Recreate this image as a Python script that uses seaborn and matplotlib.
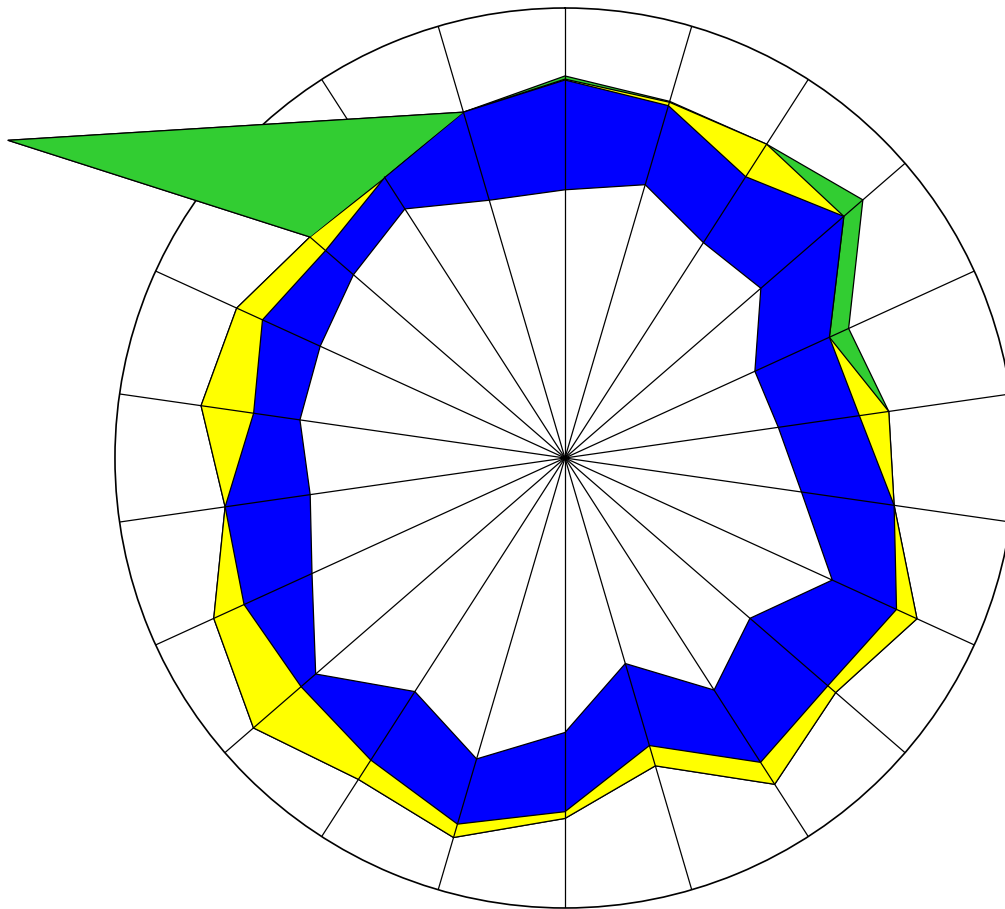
import numpy as np
import matplotlib
matplotlib.use("Agg")
import matplotlib.pyplot as plt
import seaborn as sns

n_spokes = 22
spokes = np.arange(n_spokes)

# radii on a 0-100 scale (100 = outer circle), one value per spoke
inner_white = [59.6, 63.3, 56.9, 57.6, 46.4, 47.9, 53.1, 65.3, 54.4, 61.3, 47.6,
               61.0, 69.7, 61.7, 73.3, 61.8, 57.2, 59.5, 59.8, 62.2, 65.8, 59.7]
blue_vals = [84.0, 81.6, 74.3, 82.0, 64.6, 66.1, 73.9, 81.0, 77.3, 80.4, 66.6,
             78.6, 84.8, 79.8, 77.6, 78.4, 76.3, 69.9, 73.9, 70.4, 74.1, 80.1]
yellow_vals = [84.2, 82.4, 82.9, 82.0, 64.6, 72.7, 73.9, 86.0, 79.6, 86.2, 71.3,
               80.1, 87.9, 84.9, 91.6, 85.8, 76.3, 81.7, 80.2, 75.0, 74.0, 80.1]
green_vals = [84.9, 82.6, 82.9, 87.6, 69.3, 72.7, 73.9, 86.0, 79.6, 86.2, 71.3,
              80.1, 87.9, 84.9, 91.6, 85.8, 76.3, 81.7, 80.2, 75.0, 142.5, 80.1]
# the green outlier point sits off its spoke
green_spike_index = 20
green_spike_angle = 299.7

sns.set_style("white")

fig = plt.figure(figsize=(10.05, 9.09), dpi=100)
ax = fig.add_axes([0.1144, 0.0011, 0.8955, 0.9901], projection="polar")
ax.set_theta_zero_location("N")
ax.set_theta_direction(-1)

theta = spokes * 2 * np.pi / n_spokes
green_theta = theta.copy()
green_theta[green_spike_index] = np.deg2rad(green_spike_angle)
green_r = np.asarray(green_vals, dtype=float)


def closed(a):
    a = np.asarray(a, dtype=float)
    return np.append(a, a[0])


layers = [
    (green_theta, green_vals, "#32cd32"),
    (theta, yellow_vals, "#ffff00"),
    (theta, blue_vals, "#0000ff"),
    (theta, inner_white, "#ffffff"),
]
for th, vals, color in layers:
    ax.fill(closed(th), closed(vals), facecolor=color, edgecolor="black",
            linewidth=0.9, zorder=1, clip_on=False)

# the spike itself sits above the grid and the outer circle
idx = [green_spike_index - 1, green_spike_index, green_spike_index + 1]
ax.fill(green_theta[idx], green_r[idx], facecolor="#32cd32", edgecolor="none",
        zorder=3, clip_on=False)
ax.plot(green_theta[idx], green_r[idx], color="black", linewidth=0.9,
        zorder=3.1, clip_on=False)

ax.set_ylim(0, 100)
ax.set_yticks([])
ax.set_xticks(theta)
ax.set_xticklabels([])
ax.set_axisbelow(False)
ax.grid(True, color="black", linewidth=0.9)
ax.spines["polar"].set_color("black")
ax.spines["polar"].set_linewidth(1.2)
ax.set_facecolor("white")

fig.savefig("out.png", dpi=100)
